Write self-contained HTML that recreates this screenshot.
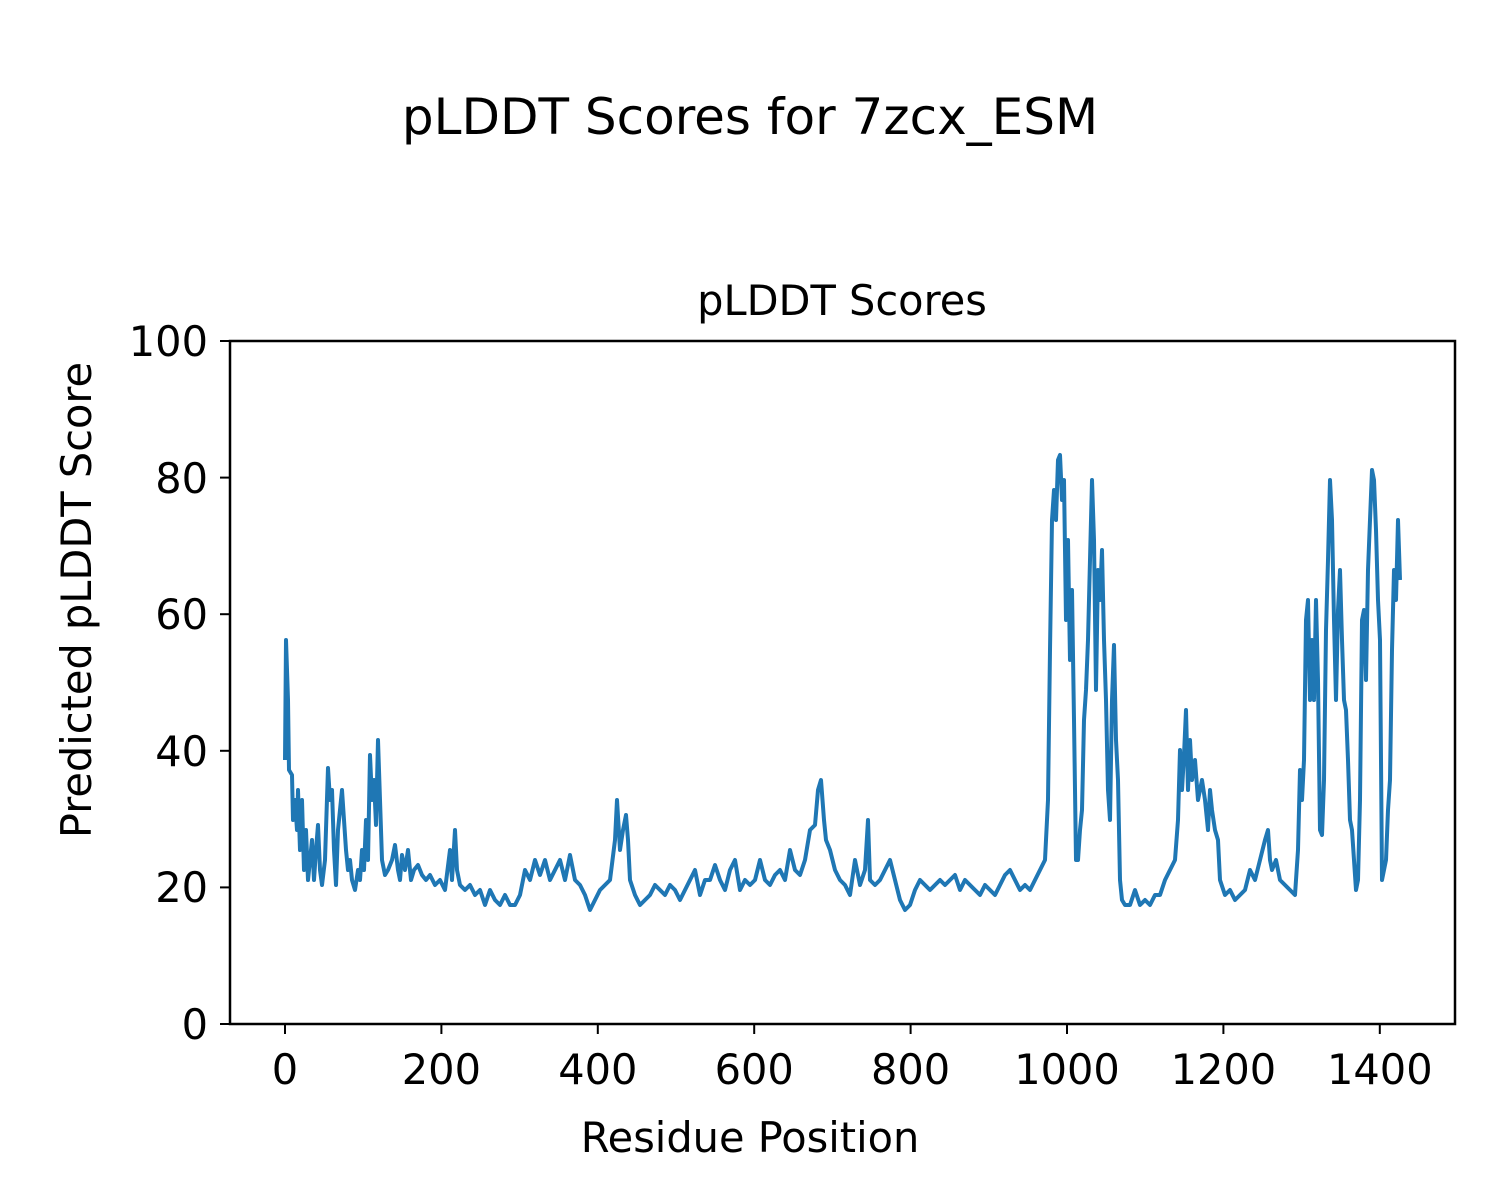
<!DOCTYPE html>
<html><head><meta charset="utf-8"><style>
html,body{margin:0;padding:0;background:#fff;}
svg{display:block;font-family:"DejaVu Sans","Liberation Sans",sans-serif;}
</style></head><body>
<svg width="1500" height="1200" viewBox="0 0 1500 1200" xmlns="http://www.w3.org/2000/svg">
<rect width="1500" height="1200" fill="#fff"/>
<text x="750" y="134" font-size="50" text-anchor="middle">pLDDT Scores for 7zcx_ESM</text>
<text x="842" y="315" font-size="41.5" text-anchor="middle">pLDDT Scores</text>
<polyline fill="none" stroke="#1f77b4" stroke-width="4" stroke-linejoin="round" points="285,760 286,640 288,700 289,770 292,775 293,820 295,800 297,830 298,790 300,850 302,800 304,870 306,830 308,880 310,860 312,840 314,880 316,850 318,825 320,870 322,885 325,860 328,768 330,800 332,790 334,850 336,885 338,830 340,810 342,790 344,820 346,850 348,870 350,860 352,880 355,890 358,870 360,880 362,850 364,870 366,820 368,860 370,755 372,800 374,780 376,825 378,740 380,800 382,860 385,875 388,870 392,860 395,845 398,870 400,880 402,855 405,870 408,850 411,880 414,870 418,865 422,875 426,880 430,875 435,885 440,880 445,890 450,850 452,880 455,830 457,870 460,885 465,890 470,885 475,895 480,890 485,905 490,890 495,900 500,905 505,895 510,905 515,905 520,895 525,870 530,880 535,860 540,875 545,860 550,880 555,870 560,860 565,880 570,855 575,880 580,885 585,895 590,910 595,900 600,890 605,885 610,880 615,840 617,800 620,850 623,830 626,815 628,840 630,880 635,895 640,905 645,900 650,895 655,885 660,890 665,895 670,885 675,890 680,900 685,890 690,880 695,870 700,895 705,880 710,880 715,865 720,880 725,890 730,870 735,860 740,890 745,880 750,885 755,880 760,860 765,880 770,885 775,875 780,870 785,880 790,850 795,870 800,875 805,860 810,830 815,825 818,790 821,780 824,820 826,840 830,850 835,870 840,880 845,885 850,895 855,860 860,885 865,870 868,820 870,880 875,885 880,880 885,870 890,860 895,880 900,900 905,910 910,905 915,890 920,880 925,885 930,890 935,885 940,880 945,885 950,880 955,875 960,890 965,880 970,885 975,890 980,895 985,885 990,890 995,895 1000,885 1005,875 1010,870 1015,880 1020,890 1025,885 1030,890 1035,880 1040,870 1045,860 1048,800 1050,650 1052,520 1054,490 1056,520 1058,460 1060,455 1062,500 1064,480 1066,620 1068,540 1070,660 1072,590 1074,720 1076,860 1078,860 1080,830 1082,810 1084,720 1086,690 1088,640 1090,560 1092,480 1094,540 1096,690 1098,570 1100,600 1102,550 1104,640 1106,700 1108,790 1110,820 1112,700 1114,645 1116,740 1118,780 1120,880 1122,900 1125,905 1130,905 1135,890 1140,905 1145,900 1150,905 1155,895 1160,895 1165,880 1170,870 1175,860 1178,820 1180,750 1182,790 1184,755 1186,710 1188,790 1190,740 1192,780 1195,760 1198,800 1200,790 1202,780 1205,800 1208,830 1210,790 1212,810 1215,830 1218,840 1220,880 1225,895 1230,890 1235,900 1240,895 1245,890 1250,870 1255,880 1260,860 1265,840 1268,830 1270,860 1272,870 1276,860 1280,880 1285,885 1290,890 1295,895 1298,850 1300,770 1302,800 1304,760 1306,620 1308,600 1310,700 1312,640 1314,700 1316,600 1318,680 1320,830 1322,835 1324,780 1326,630 1328,560 1330,480 1332,520 1334,620 1336,700 1338,610 1340,570 1342,640 1344,700 1346,710 1348,760 1350,820 1352,830 1354,860 1356,890 1358,880 1360,800 1362,620 1364,610 1366,680 1368,570 1370,520 1372,470 1374,480 1376,530 1378,600 1380,640 1382,880 1384,870 1386,860 1388,810 1390,780 1392,650 1394,570 1396,600 1398,520 1400,580"/>
<rect x="230" y="341" width="1225" height="683" fill="none" stroke="#000" stroke-width="2.5"/>
<g stroke="#000" stroke-width="2">
<line x1="285" y1="1024" x2="285" y2="1034"/><line x1="441.4" y1="1024" x2="441.4" y2="1034"/><line x1="597.8" y1="1024" x2="597.8" y2="1034"/><line x1="754.2" y1="1024" x2="754.2" y2="1034"/><line x1="910.6" y1="1024" x2="910.6" y2="1034"/><line x1="1067" y1="1024" x2="1067" y2="1034"/><line x1="1223.4" y1="1024" x2="1223.4" y2="1034"/><line x1="1379.8" y1="1024" x2="1379.8" y2="1034"/>
<line x1="220" y1="1024" x2="230" y2="1024"/><line x1="220" y1="887.4" x2="230" y2="887.4"/><line x1="220" y1="750.8" x2="230" y2="750.8"/><line x1="220" y1="614.2" x2="230" y2="614.2"/><line x1="220" y1="477.6" x2="230" y2="477.6"/><line x1="220" y1="341" x2="230" y2="341"/>
</g>
<g font-size="41.5" text-anchor="middle">
<text x="285" y="1084">0</text><text x="441.4" y="1084">200</text><text x="597.8" y="1084">400</text><text x="754.2" y="1084">600</text><text x="910.6" y="1084">800</text><text x="1067" y="1084">1000</text><text x="1223.4" y="1084">1200</text><text x="1379.8" y="1084">1400</text>
</g>
<g font-size="41.5" text-anchor="end">
<text x="208" y="1039">0</text><text x="208" y="902">20</text><text x="208" y="766">40</text><text x="208" y="629">60</text><text x="208" y="493">80</text><text x="208" y="356">100</text>
</g>
<text x="750" y="1152" font-size="41.5" text-anchor="middle">Residue Position</text>
<text transform="translate(91,600) rotate(-90)" font-size="41.5" text-anchor="middle">Predicted pLDDT Score</text>
</svg>
</body></html>
